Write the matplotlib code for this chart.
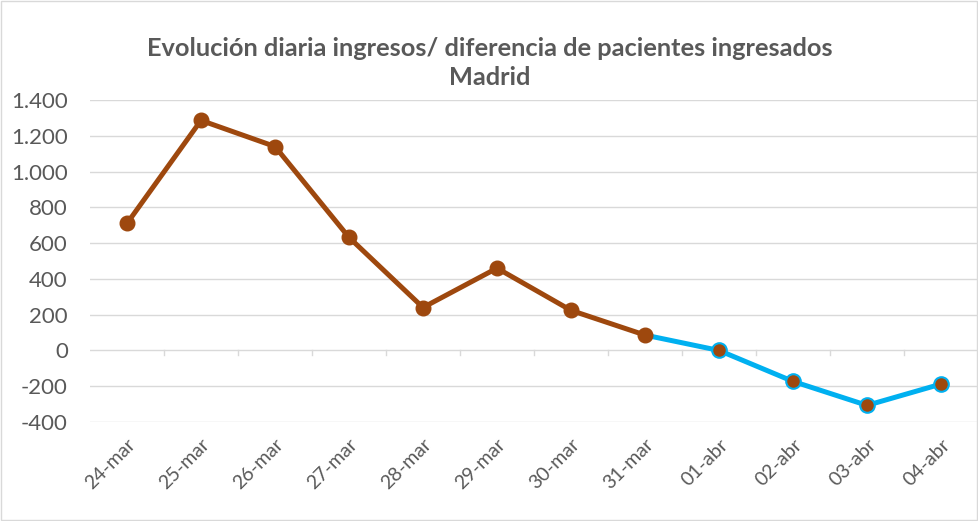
import matplotlib.pyplot as plt
from matplotlib.patches import Rectangle
from matplotlib.ticker import FuncFormatter

plt.rcParams['font.family'] = ['Lato', 'DejaVu Sans']

fechas = ['24-mar', '25-mar', '26-mar', '27-mar', '28-mar', '29-mar',
          '30-mar', '31-mar', '01-abr', '02-abr', '03-abr', '04-abr']
ingresos = [710, 1286, 1140, 632, 240, 460, 224, 86, 0, -173, -307, -188]
corte = 7  # ultimo punto de la parte marron (31-mar)

marron = '#9E480E'
azul = '#00B0F0'
gris = '#595959'

fig = plt.figure(figsize=(9.79, 5.21), dpi=100)
ax = fig.add_axes([90 / 979, 1 - 422 / 521, 888 / 979, 322 / 521])

x = list(range(len(fechas)))

# tramo azul (31-mar en adelante)
ax.plot(x[corte:], ingresos[corte:], color=azul, lw=3.6, zorder=3,
        solid_capstyle='round')
ax.plot(x[corte + 1:], ingresos[corte + 1:], 'o', ms=10.5, mfc=marron,
        mec=azul, mew=1.5, zorder=4)
# tramo marron
ax.plot(x[:corte + 1], ingresos[:corte + 1], color=marron, lw=3.6,
        marker='o', ms=10.5, mfc=marron, mec=marron, zorder=5,
        solid_capstyle='round')

ax.set_xlim(-0.5, len(fechas) - 0.5)
ax.set_ylim(-400, 1400)
ax.set_yticks(range(-400, 1401, 200))
ax.yaxis.set_major_formatter(FuncFormatter(lambda v, p: f'{int(v):,}'.replace(',', '.')))
ax.grid(axis='y', color='#D9D9D9', lw=1)
ax.set_axisbelow(True)

for s in ['top', 'right', 'left', 'bottom']:
    ax.spines[s].set_visible(False)

# eje de categorias en y=0 con marcas entre categorias
ax.set_xticks(x)
ax.set_xticklabels(fechas, rotation=45, ha='right', rotation_mode='anchor',
                   color=gris, fontsize=14)
ax.tick_params(axis='x', length=0, pad=10)
for b in range(1, len(fechas)):
    ax.plot([b - 0.5, b - 0.5], [0, -25], color='#D9D9D9', lw=1, zorder=1)
ax.tick_params(axis='y', length=0, pad=16, labelcolor=gris, labelsize=16)

fig.text(0.5, 1 - 63 / 521, 'Evolución diaria ingresos/ diferencia de pacientes ingresados\nMadrid',
         ha='center', va='center', fontsize=18.3, fontweight='bold', color=gris,
         linespacing=1.3)

fig.patches.append(Rectangle((0.001, 0.002), 0.997, 0.996, transform=fig.transFigure,
                             fill=False, ec='#D9D9D9', lw=1))

fig.savefig('out.png', dpi=100)
